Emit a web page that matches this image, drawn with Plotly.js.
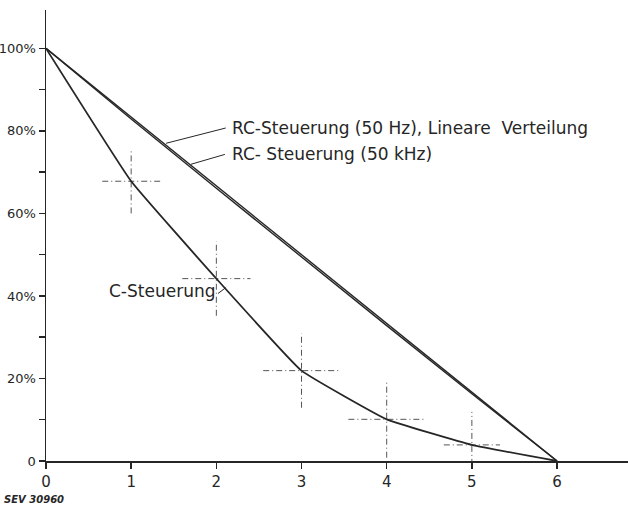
<!DOCTYPE html>
<html><head><meta charset="utf-8">
<script src="https://cdn.plot.ly/plotly-3.0.1.min.js"></script>
<style>html,body{margin:0;padding:0;background:#fff}</style>
</head><body><div id="chart" style="width:628px;height:509px"></div>
<script>
const xVals=[0,1,2,3,4,5,6];
const rcLinear=[100,83.33,66.67,50,33.33,16.67,0];
const rc50k=[100,82.9,66.1,49.4,32.8,16.3,0];
const cCurve=[100,67.8,44.2,21.9,10.1,3.9,0];
const crossX=[1,2,3,4,5];
const crossY=[67.8,44.2,21.9,10.1,3.9];
const crossErrX=[0.34,0.4,0.45,0.45,0.33];
const crossErrY=[7.8,9,9,9.3,8];
const xTickVals=[0,1,2,3,4,5,6];
const xTickText=['0','1','2','3','4','5','6'];
const yTickVals=[0,10,20,30,40,50,60,70,80,90,100];
const yTickText=['0','','20%','','40%','','60%','','80%','','100%'];
const labels=['RC-Steuerung (50 Hz), Lineare  Verteilung','RC- Steuerung (50 kHz)','C-Steuerung'];

const hx=[],hy=[],vx=[],vy=[];
crossX.forEach((x,i)=>{
  hx.push(x-crossErrX[i],x+crossErrX[i],null); hy.push(crossY[i],crossY[i],null);
  vx.push(x,x,null); vy.push(crossY[i]-crossErrY[i],crossY[i]+crossErrY[i],null);
});
const ink='#262626';
const traces=[
 {x:hx.concat(vx),y:hy.concat(vy),mode:'lines',line:{color:'#555',width:1,dash:'6px,3px,1px,3px'},hoverinfo:'skip'},
 {x:xVals,y:rcLinear,mode:'lines',line:{color:ink,width:1.4}},
 {x:xVals,y:rc50k,mode:'lines',line:{color:ink,width:1.4}},
 {x:xVals,y:cCurve,mode:'lines',line:{color:ink,width:1.8,shape:'spline',smoothing:0.3}}
];
const font={family:'DejaVu Sans, sans-serif',color:ink};
const layout={
 width:628,height:509,
 margin:{l:46,r:0,t:10,b:48},
 paper_bgcolor:'#fff',plot_bgcolor:'#fff',
 showlegend:false,
 font:font,
 xaxis:{range:[0,6.833],tickvals:xTickVals,ticktext:xTickText,ticks:'outside',ticklen:6,tickwidth:1.5,tickcolor:ink,
   showline:true,linecolor:ink,linewidth:1.5,showgrid:false,zeroline:false,tickfont:{size:15,color:ink,family:'DejaVu Sans, sans-serif'}},
 yaxis:{range:[0,109.3],tickvals:yTickVals,ticktext:yTickText,ticks:'outside',ticklen:6,tickwidth:1.5,tickcolor:ink,ticklabelstandoff:0,
   showline:true,linecolor:ink,linewidth:1.5,showgrid:false,zeroline:false,tickfont:{size:13,color:ink,family:'DejaVu Sans, sans-serif'}},
 shapes:[
  {type:'line',xref:'x',yref:'y',x0:2.11,y0:80.7,x1:1.41,y1:77.0,line:{color:ink,width:1}},
  {type:'line',xref:'x',yref:'y',x0:2.10,y0:74.3,x1:1.70,y1:71.9,line:{color:ink,width:1}},
  {type:'line',xref:'x',yref:'y',x0:2.02,y0:40.6,x1:2.11,y1:42.0,line:{color:ink,width:1}}
 ],
 annotations:[
  {xref:'x',yref:'y',x:2.16,y:80.7,text:labels[0],showarrow:false,xanchor:'left',yanchor:'middle',font:{size:17,color:ink}},
  {xref:'x',yref:'y',x:2.16,y:74.4,text:labels[1],showarrow:false,xanchor:'left',yanchor:'middle',font:{size:17,color:ink}},
  {xref:'x',yref:'y',x:2.01,y:41.2,text:labels[2],showarrow:false,xanchor:'right',yanchor:'middle',font:{size:17,color:ink}},
  {xref:'paper',yref:'paper',x:-0.075,y:-0.085,text:'<b><i>SEV 30960</i></b>',showarrow:false,xanchor:'left',yanchor:'middle',font:{size:10,color:ink}}
 ]
};
Plotly.newPlot('chart',traces,layout,{displayModeBar:false,staticPlot:true});
</script></body></html>
